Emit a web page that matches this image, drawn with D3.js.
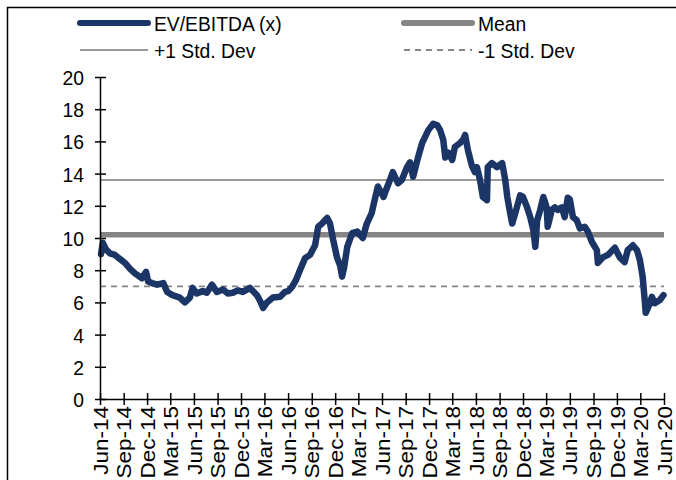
<!DOCTYPE html>
<html>
<head>
<meta charset="utf-8">
<script src="https://cdn.jsdelivr.net/npm/d3@7"></script>
<style>
  html, body { margin: 0; padding: 0; background: #fff; }
  svg { display: block; }
  text { font-family: "Liberation Sans", Arial, sans-serif; fill: #000; }
</style>
</head>
<body>
<svg id="chart" width="676" height="480"></svg>
<script>
// EV/EBITDA multiple, sampled from the daily history
const dates = [
  "2014-06-05","2014-06-12","2014-06-24","2014-07-09","2014-07-29","2014-08-17","2014-09-06","2014-09-25",
  "2014-10-15","2014-11-11","2014-11-27","2014-12-05","2014-12-20","2015-01-09","2015-02-02","2015-02-17",
  "2015-03-10","2015-04-07","2015-04-27","2015-05-16","2015-05-27","2015-06-12","2015-07-05","2015-07-21",
  "2015-08-10","2015-08-29","2015-09-22","2015-10-11","2015-10-30","2015-11-19","2015-12-08","2016-01-05",
  "2016-02-01","2016-02-13","2016-02-25","2016-03-11","2016-04-03","2016-05-01","2016-05-20","2016-06-01",
  "2016-06-16","2016-07-02","2016-07-17","2016-08-06","2016-08-25","2016-09-14","2016-09-26","2016-10-11",
  "2016-10-31","2016-11-11","2016-11-23","2016-12-08","2016-12-20","2016-12-28","2017-01-05","2017-01-17",
  "2017-02-05","2017-02-25","2017-03-18","2017-04-03","2017-04-22","2017-05-04","2017-05-16","2017-06-07",
  "2017-06-17","2017-07-02","2017-07-13","2017-08-02","2017-08-17","2017-09-06","2017-09-18","2017-09-30",
  "2017-10-19","2017-11-04","2017-11-16","2017-11-28","2017-12-17","2018-01-02","2018-01-13","2018-01-25",
  "2018-02-02","2018-02-14","2018-03-01","2018-03-11","2018-03-31","2018-04-12","2018-04-20","2018-05-01",
  "2018-05-16","2018-05-28","2018-06-05","2018-06-17","2018-06-28","2018-07-14","2018-07-17","2018-08-02",
  "2018-08-22","2018-09-11","2018-09-23","2018-10-01","2018-10-12","2018-10-20","2018-11-01","2018-11-20",
  "2018-12-01","2018-12-17","2018-12-29","2019-01-10","2019-01-18","2019-01-25","2019-02-06","2019-02-18",
  "2019-03-03","2019-03-07","2019-03-23","2019-04-04","2019-04-15","2019-05-01","2019-05-12","2019-05-24",
  "2019-06-01","2019-06-13","2019-06-28","2019-07-10","2019-07-29","2019-08-10","2019-08-26","2019-09-14",
  "2019-09-18","2019-10-07","2019-10-27","2019-11-23","2019-12-12","2019-12-31","2020-01-12","2020-02-01",
  "2020-02-17","2020-02-28","2020-03-10","2020-03-18","2020-03-22","2020-04-07","2020-04-15","2020-04-26",
  "2020-05-16","2020-05-30"
];
const evEbitda = [
  9.0, 9.7, 9.3, 9.05, 8.95, 8.7, 8.45, 8.1,
  7.8, 7.5, 7.9, 7.3, 7.2, 7.1, 7.2, 6.65,
  6.45, 6.3, 6.0, 6.3, 6.9, 6.55, 6.7, 6.6,
  7.1, 6.65, 6.8, 6.55, 6.6, 6.75, 6.65, 6.9,
  6.45, 6.1, 5.65, 6.0, 6.3, 6.35, 6.65, 6.7,
  6.95, 7.4, 8.0, 8.75, 8.95, 9.55, 10.7, 10.9,
  11.25, 10.9, 9.9, 8.8, 8.3, 7.6, 8.2, 9.45,
  10.3, 10.4, 10.0, 10.9, 11.55, 12.4, 13.2, 12.55,
  13.0, 13.6, 14.1, 13.4, 13.6, 14.4, 14.7, 13.8,
  15.0, 15.9, 16.3, 16.7, 17.1, 17.0, 16.7, 16.1,
  15.0, 15.3, 14.85, 15.65, 15.9, 16.1, 16.4, 15.45,
  14.5, 14.1, 14.4, 13.6, 12.55, 12.35, 14.4, 14.65,
  14.4, 14.65, 13.6, 12.55, 11.55, 10.9, 11.55, 12.65,
  12.55, 11.9, 11.3, 10.5, 9.45, 11.1, 11.75, 12.55,
  11.9, 10.7, 11.75, 11.9, 11.75, 11.9, 11.3, 12.5,
  12.4, 11.3, 11.1, 10.6, 10.7, 10.4, 9.75, 9.25,
  8.45, 8.8, 8.95, 9.4, 8.8, 8.5, 9.25, 9.55,
  9.25, 8.65, 7.6, 6.15, 5.35, 5.95, 6.35, 5.95,
  6.15, 6.45
];
const meanValue = 10.2;
const plusStdDev = 13.6;
const minusStdDev = 7.0;
const yTicks = [0, 2, 4, 6, 8, 10, 12, 14, 16, 18, 20];
const xTickLabels = [
  "Jun-14","Sep-14","Dec-14","Mar-15","Jun-15","Sep-15","Dec-15","Mar-16","Jun-16",
  "Sep-16","Dec-16","Mar-17","Jun-17","Sep-17","Dec-17","Mar-18","Jun-18","Sep-18",
  "Dec-18","Mar-19","Jun-19","Sep-19","Dec-19","Mar-20","Jun-20"
];
const seriesNames = ["EV/EBITDA (x)", "Mean", "+1 Std. Dev", "-1 Std. Dev"];

const parse = d3.timeParse("%Y-%m-%d");
const parseTick = d3.timeParse("%b-%y");
const fmtTick = d3.timeFormat("%b-%y");
const points = dates.map((d, i) => ({ date: parse(d), value: evEbitda[i] }));
const xTickDates = xTickLabels.map(parseTick);

const svg = d3.select("#chart");
const navy = "#1c3567";
const meanGrey = "#858585";
const sdGrey = "#9a9a9a";

// outer frame
svg.append("rect")
  .attr("x", 7.5).attr("y", 7.5)
  .attr("width", 720).attr("height", 520)
  .attr("fill", "none").attr("stroke", "#000").attr("stroke-width", 1.5);

const x = d3.scaleTime()
  .domain([xTickDates[0], xTickDates[xTickDates.length - 1]])
  .range([100, 664]);
const y = d3.scaleLinear().domain([0, 20]).range([399, 77]);

// reference lines
const refLines = [
  { v: minusStdDev, color: meanGrey, width: 1.8, dash: "6,5" },
  { v: plusStdDev, color: sdGrey, width: 2, dash: null },
  { v: meanValue, color: meanGrey, width: 5.5, dash: null }
];
svg.append("g").selectAll("line").data(refLines).join("line")
  .attr("x1", x.range()[0]).attr("x2", x.range()[1])
  .attr("y1", d => y(d.v)).attr("y2", d => y(d.v))
  .attr("stroke", d => d.color)
  .attr("stroke-width", d => d.width)
  .attr("stroke-dasharray", d => d.dash);

// series line
const line = d3.line().x(d => x(d.date)).y(d => y(d.value)).curve(d3.curveLinear);
svg.append("path")
  .datum(points)
  .attr("d", line)
  .attr("fill", "none")
  .attr("stroke", navy)
  .attr("stroke-width", 6.5)
  .attr("stroke-linejoin", "round")
  .attr("stroke-linecap", "round");

// y axis
const yAxis = svg.append("g")
  .attr("transform", "translate(100,0)")
  .call(d3.axisLeft(y).tickValues(yTicks).tickSize(0).tickPadding(0).tickFormat(d3.format("d")));
yAxis.select(".domain").attr("stroke", "#000").attr("stroke-width", 1.5);
yAxis.selectAll(".tick text").remove();
yAxis.selectAll(".tick").append("line")
  .attr("x1", -5).attr("x2", 6).attr("stroke", "#000").attr("stroke-width", 1.5);
yAxis.selectAll(".tick").append("text")
  .attr("text-anchor", "end")
  .attr("dy", "0.36em")
  .attr("transform", "translate(-16,0) scale(0.92,1)")
  .style("font-size", "21px")
  .text(d => d);

// x axis
const xAxis = svg.append("g")
  .attr("transform", "translate(0,399)")
  .call(d3.axisBottom(x).tickValues(xTickDates).tickSize(0).tickFormat(""));
xAxis.select(".domain").attr("stroke", "#000").attr("stroke-width", 1.5);
xAxis.selectAll(".tick").append("line")
  .attr("y1", -6).attr("y2", 6).attr("stroke", "#000").attr("stroke-width", 1.5);
xAxis.selectAll(".tick text").remove();
xAxis.selectAll(".tick").append("text")
  .attr("text-anchor", "end")
  .attr("transform", "translate(0,7) rotate(-90) scale(1,0.88)")
  .attr("dy", "0.36em")
  .style("font-size", "22.5px")
  .text(d => fmtTick(d));

// legend
const legend = [
  { name: seriesNames[0], x: 80, y: 23, color: navy, width: 6, dash: null },
  { name: seriesNames[1], x: 404, y: 23, color: meanGrey, width: 6, dash: null },
  { name: seriesNames[2], x: 80, y: 50, color: sdGrey, width: 2, dash: null },
  { name: seriesNames[3], x: 404, y: 50, color: meanGrey, width: 1.8, dash: "6,5" }
];
const lg = svg.append("g").selectAll("g").data(legend).join("g")
  .attr("transform", d => `translate(${d.x},${d.y})`);
lg.append("line")
  .attr("x1", 0).attr("x2", 68)
  .attr("stroke", d => d.color)
  .attr("stroke-width", d => d.width)
  .attr("stroke-dasharray", d => d.dash)
  .attr("stroke-linecap", d => d.width > 3 ? "round" : "butt");
lg.append("text")
  .attr("transform", "translate(74,0) scale(0.92,1)")
  .attr("dy", "0.36em")
  .style("font-size", "21px")
  .text(d => d.name);
</script>
</body>
</html>
